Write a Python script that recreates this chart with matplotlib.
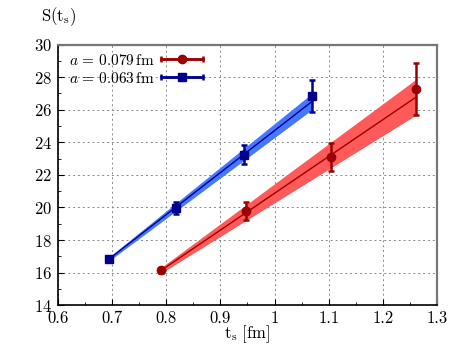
import numpy as np
import matplotlib
matplotlib.use("Agg")
import matplotlib.pyplot as plt
from matplotlib.container import ErrorbarContainer
from matplotlib.legend_handler import HandlerErrorbar

plt.rcParams['font.family'] = 'serif'
plt.rcParams['font.serif'] = ['cmr10']
plt.rcParams['mathtext.fontset'] = 'cm'
plt.rcParams['axes.formatter.use_mathtext'] = True

# data points (t_s in fm, S)
t_fine = [0.694, 0.818, 0.944, 1.069]
S_fine = [16.81, 19.97, 23.25, 26.84]
err_fine = [0.15, 0.35, 0.6, 1.0]

t_coarse = [0.79, 0.947, 1.104, 1.262]
S_coarse = [16.15, 19.77, 23.1, 27.25]
err_coarse = [0.15, 0.55, 0.85, 1.6]

# linear fit S = c + sigma * t, band half-width at the two ends
fit_fine = (-1.08, 25.8)
band_fine = (0.12, 0.5)
fit_coarse = (-1.73, 22.6)
band_coarse = (0.17, 1.1)

labels = [r'$a\,=\,0.079\,\mathrm{fm}$', r'$a\,=\,0.063\,\mathrm{fm}$']

fig = plt.figure(figsize=(4.63, 3.48), dpi=100)
ax = fig.add_axes([0.125, 0.123, 0.819, 0.749])


def draw(t, S, err, fit, band, bandcol, col, mk, ms):
    tt = np.linspace(t[0], t[-1], 50)
    line = fit[0] + fit[1] * tt
    hw = band[0] + (band[1] - band[0]) * (tt - t[0]) / (t[-1] - t[0])
    ax.fill_between(tt, line - hw, line + hw, color=bandcol, lw=0, zorder=2)
    ax.plot(tt, line, color=col, lw=1.0, zorder=3)
    ax.errorbar(t, S, yerr=err, fmt=mk, color=col, ms=ms, elinewidth=1.8,
                capsize=2.5, capthick=1.8, zorder=4)


draw(t_coarse, S_coarse, err_coarse, fit_coarse, band_coarse, '#ff5a5a', '#9b0000', 'o', 6)
draw(t_fine, S_fine, err_fine, fit_fine, band_fine, '#4677ff', '#00008f', 's', 5.5)

# legend proxies with horizontal bars
h1 = ax.errorbar([np.nan], [np.nan], xerr=[1], fmt='-o', color='#9b0000', ms=6,
                 lw=1.8, capsize=2.5, capthick=1.8)
h2 = ax.errorbar([np.nan], [np.nan], xerr=[1], fmt='-s', color='#00008f', ms=5.5,
                 lw=1.8, capsize=2.5, capthick=1.8)
ax.legend([h1, h2], labels, loc='upper left', frameon=False, fontsize=11,
          markerfirst=False, handlelength=2.75, handletextpad=0.4,
          borderaxespad=0.3, labelspacing=0.2, bbox_to_anchor=(0.0, 1.01),
          handler_map={ErrorbarContainer: HandlerErrorbar(xerr_size=1.37)})

ax.set_xlim(0.6, 1.3)
ax.set_ylim(14, 30)
ax.set_xticks(np.arange(0.6, 1.31, 0.1))
ax.set_xticks(np.arange(0.6, 1.31, 0.05), minor=True)
ax.set_yticks(np.arange(14, 31, 2))
ax.set_yticks(np.arange(14, 31, 1), minor=True)
ax.xaxis.set_major_formatter(plt.FuncFormatter(lambda v, p: '%g' % round(v, 2)))
ax.tick_params(which='both', direction='in', labelsize=12, top=False, right=False)
ax.tick_params(which='major', length=4, pad=4)
ax.tick_params(which='minor', length=2.5)
ax.grid(True, which='major', ls=(0, (2, 3)), color='#888888', lw=0.7)

for s in ['left', 'bottom']:
    ax.spines[s].set_color('black')
    ax.spines[s].set_linewidth(1.2)
for s in ['top', 'right']:
    ax.spines[s].set_color('#777777')
    ax.spines[s].set_linewidth(1.6)

ax.set_xlabel(r'$\mathrm{t_s\ [fm]}$', fontsize=12, labelpad=-2)
fig.text(0.088, 0.94, r'$\mathrm{S(t_s)}$', fontsize=12)

fig.savefig('out.png', dpi=100)
